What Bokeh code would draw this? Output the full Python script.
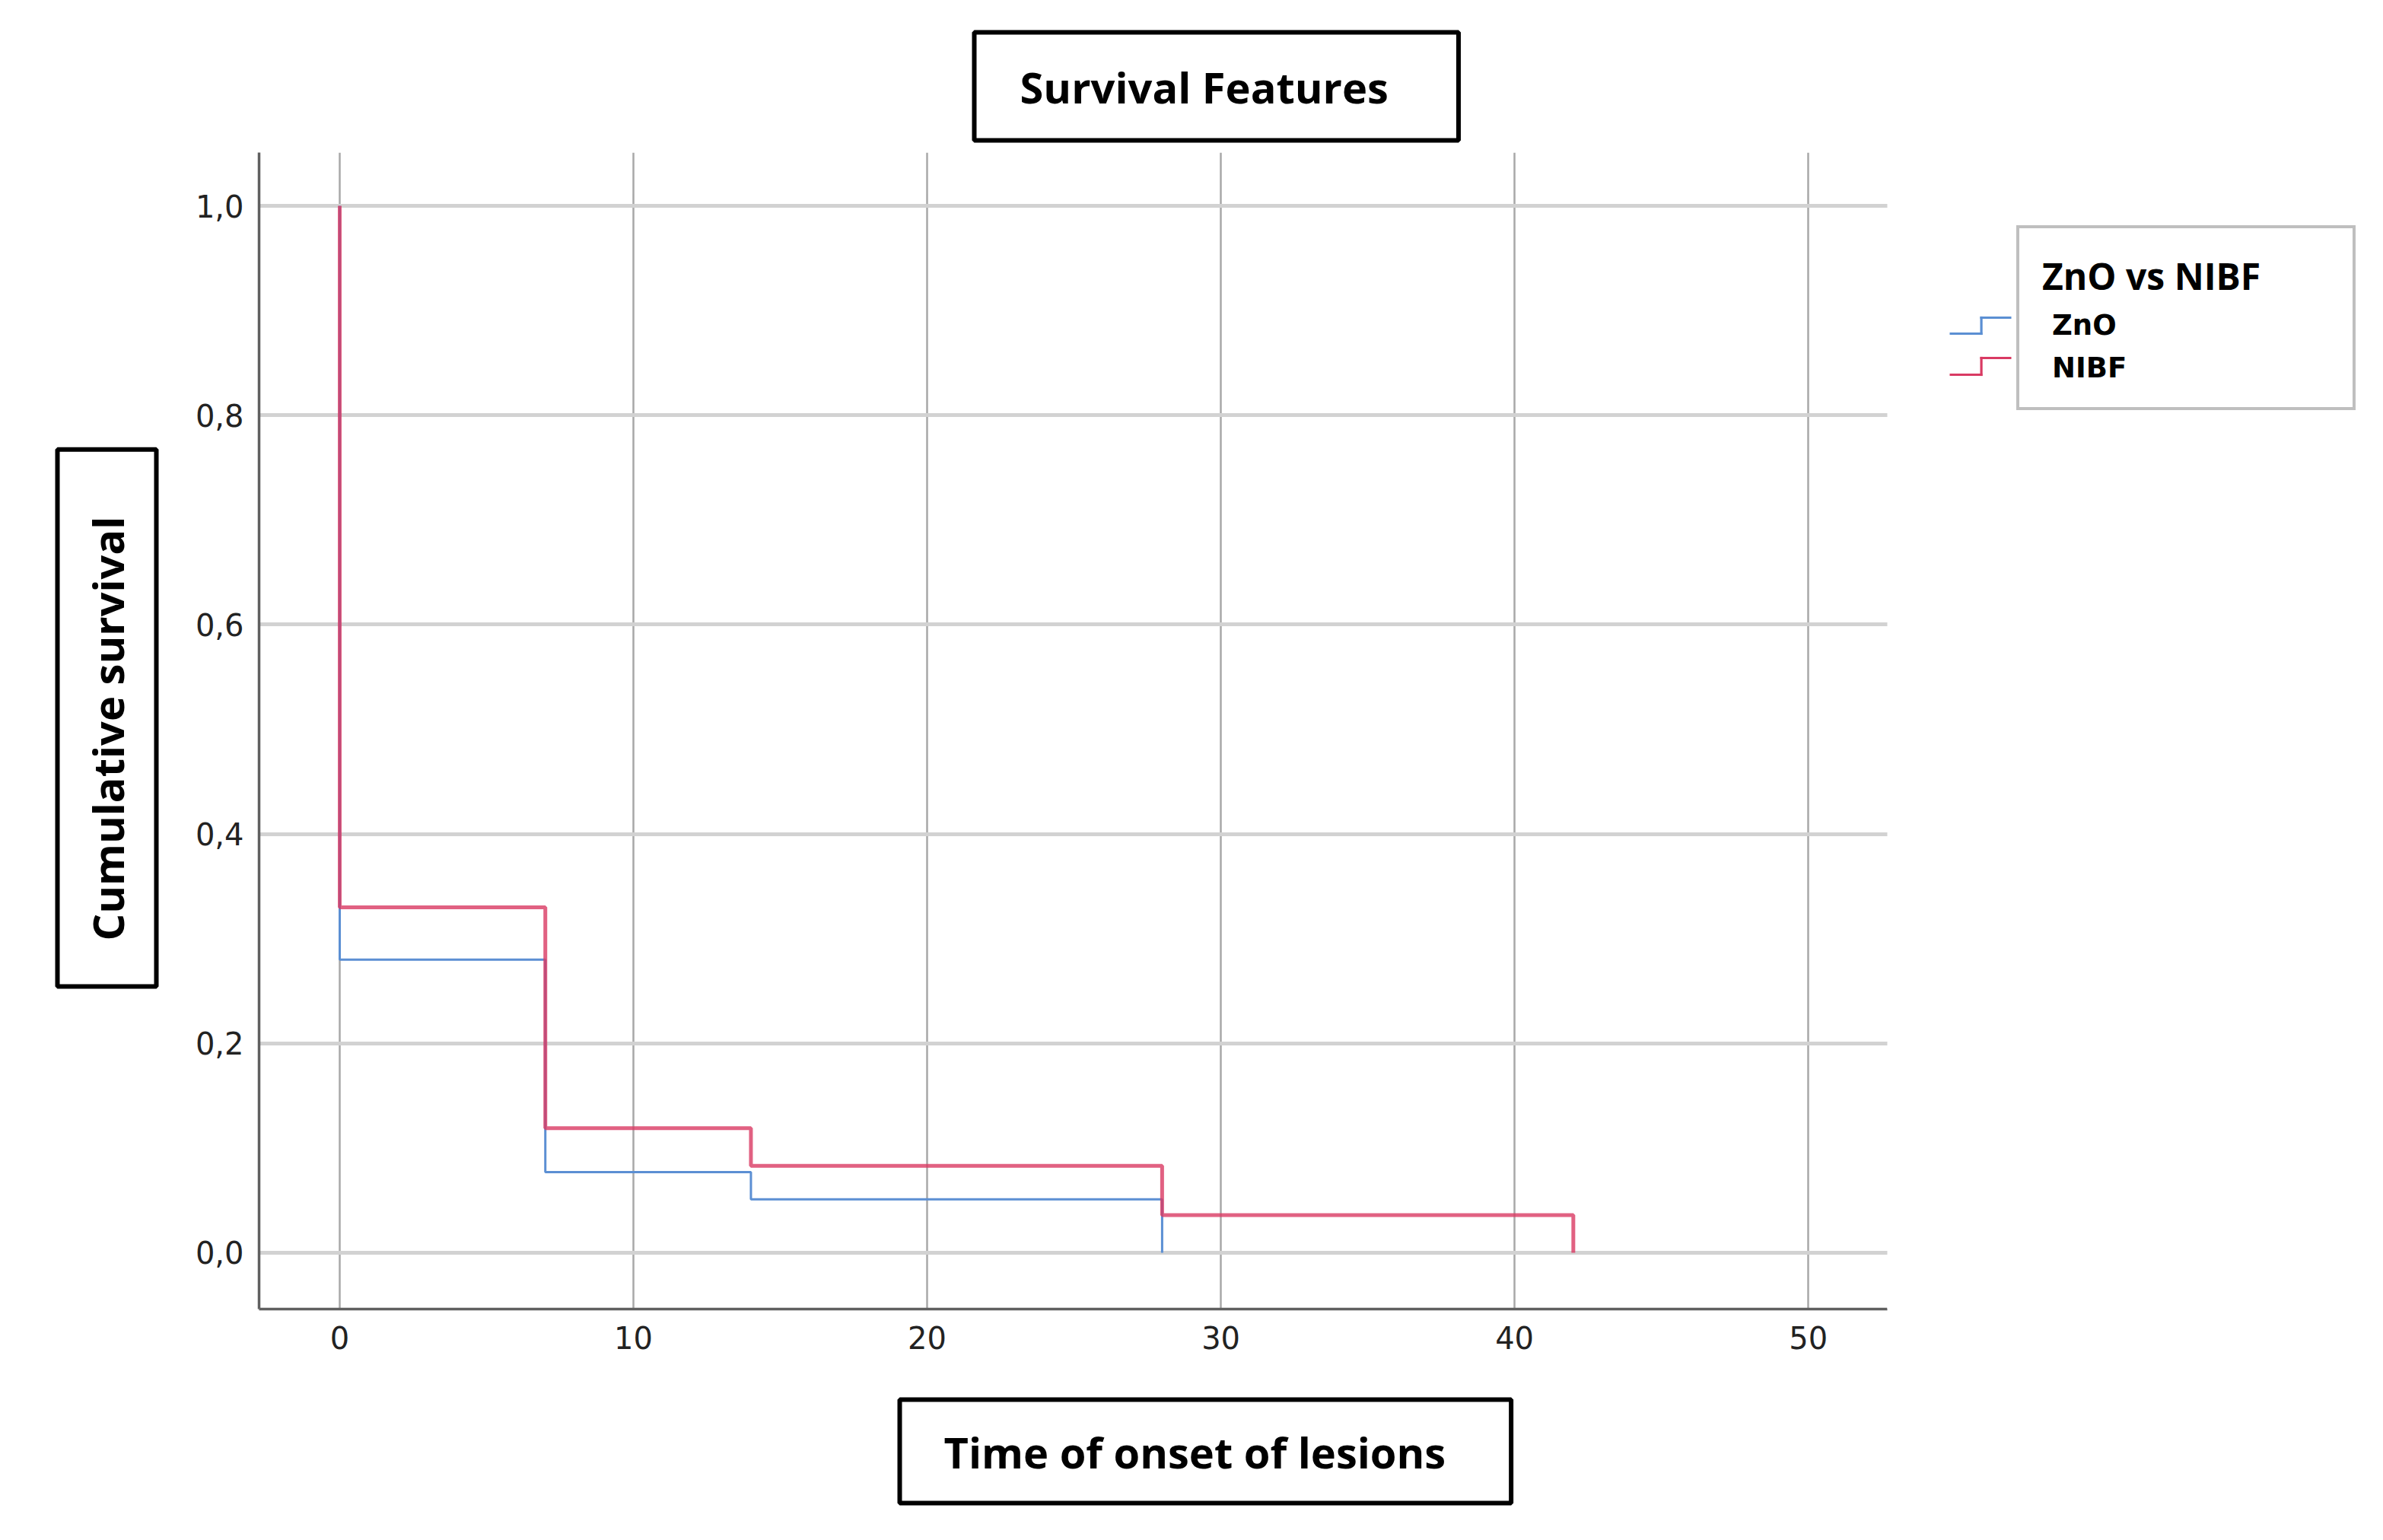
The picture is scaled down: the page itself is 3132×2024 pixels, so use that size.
import math
from bokeh.plotting import figure
from bokeh.models import (FixedTicker, CustomJSTickFormatter, Range1d, Title, Legend,
                          LegendItem, BoxAnnotation)
from bokeh.embed import file_html
from bokeh.resources import INLINE

# ---------------- data ----------------
zno_time = [0, 0, 7, 14, 28]
zno_surv = [1.0, 0.28, 0.077, 0.051, 0.0]
nibf_time = [0, 0, 7, 14, 28, 42]
nibf_surv = [1.0, 0.33, 0.119, 0.083, 0.036, 0.0]
x_ticks = [0, 10, 20, 30, 40, 50]
y_ticks = [0.0, 0.2, 0.4, 0.6, 0.8, 1.0]
title_text = "Survival Features"
x_label = "Time of onset of lesions"
y_label = "Cumulative survival"
legend_title = "ZnO vs NIBF"
series_names = ["ZnO", "NIBF"]
series_colors = ["#5b8fd3", "#d93a63"]

# ---------------- layout ----------------
W, H = 3116, 2008
FL, FR, FT, FB = 340, 2480, 200, 1720   # visible plot area edges (pixels)
X0, X1 = -2.746, 52.69                  # x range of the visible plot area
Y0, Y1 = -0.0538, 1.0509
X_END = X0 + (W - FL) * (X1 - X0) / (FR - FL)   # frame continues under the legend

def X(px):
    return X0 + (px - FL) * (X1 - X0) / (FR - FL)

def Y(py):
    return Y0 + (FB - py) * (Y1 - Y0) / (FB - FT)

def boxed_title(text, **kw):
    return Title(text=text, text_font="Open Sans", text_font_style="bold",
                 text_font_size="56px", text_color="black",
                 border_line_color="black", border_line_width=6, **kw)

title = boxed_title(title_text, align="left", offset=1280 - FL, standoff=32,
                    padding=dict(left=60, right=92, top=33, bottom=33))

p = figure(width=W, height=H, output_backend="svg", toolbar_location=None,
           x_range=Range1d(X0, X_END), y_range=Range1d(Y0, Y1), title=title,
           min_border_left=FL, min_border_right=0,
           min_border_top=FT, min_border_bottom=H - FB)
p.outline_line_color = None
p.background_fill_color = "white"
p.border_fill_color = "white"

for ax in (p.xaxis[0], p.yaxis[0]):
    ax.axis_line_color = "#606060"
    ax.axis_line_width = 3.5
    ax.major_tick_line_color = None
    ax.minor_tick_line_color = None
    ax.major_tick_out = 0
    ax.major_tick_in = 0
    ax.major_label_text_font = "DejaVu Sans"
    ax.major_label_text_font_size = "40px"
    ax.major_label_text_color = "#222222"
p.xaxis[0].ticker = FixedTicker(ticks=x_ticks)
p.xaxis[0].bounds = (X0, X1)
p.yaxis[0].ticker = FixedTicker(ticks=y_ticks)
p.yaxis[0].formatter = CustomJSTickFormatter(code="return tick.toFixed(1).replace('.', ',');")
p.xaxis[0].major_label_standoff = 22
p.yaxis[0].major_label_standoff = 20

p.xgrid.ticker = FixedTicker(ticks=x_ticks)
p.ygrid.ticker = FixedTicker(ticks=y_ticks)
p.xgrid.grid_line_color = "#a8a8a8"
p.xgrid.grid_line_width = 2.5
p.ygrid.grid_line_color = "#d2d2d2"
p.ygrid.grid_line_width = 5

r_zno = p.step(zno_time, zno_surv, mode="after", line_color=series_colors[0], line_width=3)
r_nibf = p.step(nibf_time, nibf_surv, mode="after", line_color=series_colors[1],
                line_width=5, line_alpha=0.8)

# white area right of the plot (grid stops at the plot edge)
p.add_layout(BoxAnnotation(left=X1, fill_color="white", fill_alpha=1, line_color=None))

# ---------------- boxed axis titles ----------------
spacer = Title(text=".", text_font="Open Sans", text_font_size="40px",
               text_color="white", standoff=32)
p.add_layout(spacer, "below")
xt = boxed_title(x_label, align="left", offset=1182 - FL, standoff=0,
                 padding=dict(left=58, right=86, top=30, bottom=30))
p.add_layout(xt, "below")
yt = boxed_title(y_label, align="left", offset=FB - 1296, vertical_align="middle", standoff=0,
                 padding=dict(left=60, right=88, top=27, bottom=27))
p.add_layout(yt, "left")

# ---------------- legend ----------------
d1 = p.line(x=[], y=[], line_alpha=0)
d2 = p.line(x=[], y=[], line_alpha=0)
LEG_H = 241
leg_box = Legend(items=[LegendItem(label=series_names[0], renderers=[d1]),
                        LegendItem(label=series_names[1], renderers=[d2])],
                 title=legend_title, title_text_font="Open Sans",
                 title_text_font_style="bold", title_text_font_size="48px",
                 title_text_color="black", title_standoff=11,
                 label_text_font="DejaVu Sans", label_text_font_style="bold",
                 label_text_font_size="37px", label_text_color="black",
                 glyph_width=13, glyph_height=20, label_standoff=0,
                 label_width=365, label_height=43, spacing=13, padding=30, margin=0,
                 border_line_color="#7f7f7f", border_line_width=4,
                 background_fill_color="white", background_fill_alpha=1,
                 location=(2650 - FL, FB - 298 - LEG_H))
p.add_layout(leg_box, "center")

# step-shaped legend keys, left of the legend frame
def bar(l, r, t, b, color):
    p.add_layout(BoxAnnotation(left=X(l), right=X(r), top=Y(t), bottom=Y(b),
                               fill_color=color, fill_alpha=1, line_color=None))

key_y = [(438, 417), (492, 470)]
for col, (lo, hi) in zip(series_colors, key_y):
    bar(2562, 2605, lo - 1.6, lo + 1.6, col)
    bar(2602, 2605.2, hi - 1.6, lo + 1.6, col)
    bar(2602, 2643, hi - 1.6, hi + 1.6, col)

open("out.html", "w").write(file_html(p, INLINE))
